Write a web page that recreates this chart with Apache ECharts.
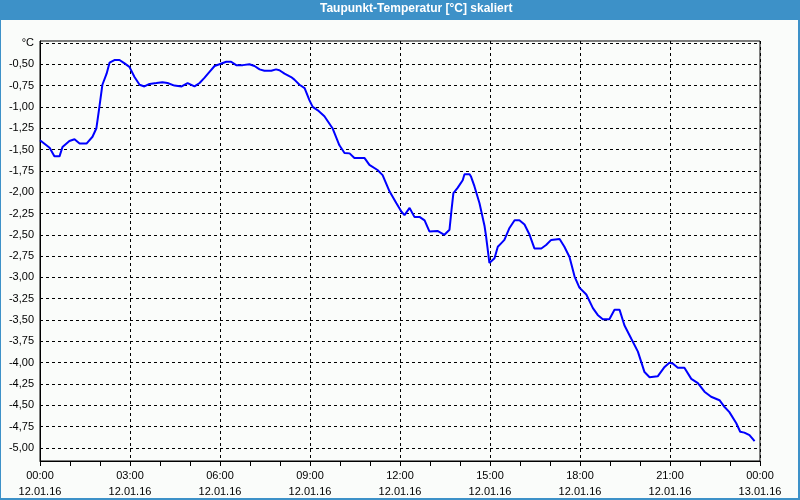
<!DOCTYPE html>
<html>
<head>
<meta charset="utf-8">
<script src="https://cdn.jsdelivr.net/npm/echarts@6/dist/echarts.min.js"></script>
<style>html,body{margin:0;padding:0;background:#fafcfa;}#c{width:800px;height:500px;}</style>
</head>
<body>
<div id="c"></div>
<script>
var titleText = 'Taupunkt-Temperatur [°C] skaliert';
var hours = [0,0.32,0.48,0.65,0.75,0.98,1.15,1.32,1.55,1.75,1.88,1.98,2.08,2.22,2.32,2.48,2.65,2.82,2.98,3.15,3.32,3.48,3.65,3.88,4.08,4.25,4.48,4.72,4.92,4.98,5.15,5.32,5.48,5.65,5.82,5.98,6.21,6.37,6.54,6.76,6.98,7.15,7.32,7.48,7.71,7.87,7.98,8.15,8.37,8.48,8.65,8.82,8.98,9.09,9.26,9.48,9.75,9.98,10.15,10.32,10.48,10.82,10.98,11.25,11.42,11.65,11.88,12.05,12.15,12.32,12.48,12.65,12.82,12.98,13.25,13.48,13.65,13.72,13.78,13.92,14.09,14.15,14.32,14.37,14.48,14.65,14.82,14.87,14.98,15.15,15.26,15.37,15.48,15.65,15.82,15.98,16.15,16.32,16.48,16.71,16.87,17.04,17.32,17.48,17.65,17.82,17.98,18.21,18.43,18.59,18.76,18.98,19.15,19.32,19.48,19.71,19.93,20.04,20.15,20.32,20.59,20.82,20.98,21.09,21.26,21.48,21.71,21.93,22.15,22.37,22.65,22.82,22.98,23.21,23.34,23.48,23.65,23.82];
var dewPoint = [-1.39,-1.48,-1.58,-1.58,-1.47,-1.40,-1.38,-1.43,-1.43,-1.35,-1.25,-1.00,-0.74,-0.61,-0.48,-0.45,-0.45,-0.49,-0.53,-0.65,-0.74,-0.76,-0.73,-0.72,-0.71,-0.72,-0.75,-0.76,-0.72,-0.71,-0.76,-0.72,-0.66,-0.59,-0.52,-0.50,-0.47,-0.47,-0.51,-0.51,-0.50,-0.52,-0.56,-0.575,-0.575,-0.56,-0.57,-0.61,-0.65,-0.68,-0.74,-0.78,-0.92,-1.00,-1.04,-1.11,-1.25,-1.45,-1.54,-1.545,-1.60,-1.60,-1.68,-1.74,-1.80,-1.99,-2.13,-2.23,-2.27,-2.185,-2.29,-2.29,-2.33,-2.46,-2.455,-2.50,-2.44,-2.20,-2.01,-1.95,-1.86,-1.79,-1.79,-1.82,-1.93,-2.13,-2.40,-2.52,-2.83,-2.775,-2.64,-2.60,-2.56,-2.42,-2.33,-2.33,-2.38,-2.50,-2.66,-2.66,-2.62,-2.56,-2.55,-2.64,-2.76,-2.99,-3.12,-3.20,-3.36,-3.44,-3.49,-3.49,-3.38,-3.38,-3.56,-3.72,-3.87,-3.99,-4.11,-4.17,-4.16,-4.05,-4.00,-4.01,-4.06,-4.06,-4.19,-4.24,-4.34,-4.40,-4.44,-4.52,-4.58,-4.71,-4.81,-4.82,-4.85,-4.92];
var yTickValues = [-5,-4.75,-4.5,-4.25,-4,-3.75,-3.5,-3.25,-3,-2.75,-2.5,-2.25,-2,-1.75,-1.5,-1.25,-1,-0.75,-0.5,-0.25];
var yUnitLabel = '°C';
var xTickLabels = ['00:00\n12.01.16','03:00\n12.01.16','06:00\n12.01.16','09:00\n12.01.16','12:00\n12.01.16','15:00\n12.01.16','18:00\n12.01.16','21:00\n12.01.16','00:00\n13.01.16'];

var FONT = 'Liberation Sans';
var chart = echarts.init(document.getElementById('c'), null, {renderer: 'canvas'});
var data = hours.map(function (h, i) { return [h, dewPoint[i]]; });
chart.setOption({
  animation: false,
  backgroundColor: '#fafcfa',
  graphic: [
    {type: 'rect', z: 0, shape: {x: 0, y: 0, width: 800, height: 20}, style: {fill: '#3d91c8'}},
    {type: 'rect', z: 0, shape: {x: 0, y: 0, width: 799, height: 499}, style: {fill: null, stroke: '#3d91c8', lineWidth: 2}}
  ],
  title: {
    text: titleText, left: 320, top: 3, padding: 0, z: 10,
    textStyle: {color: '#ffffff', fontSize: 12, fontWeight: 'bold', fontFamily: FONT}
  },
  grid: {left: 40, right: 40, top: 41, bottom: 39, show: true, borderColor: '#000', borderWidth: 1, backgroundColor: 'transparent'},
  xAxis: {
    type: 'value', min: 0, max: 24, interval: 3,
    axisLine: {lineStyle: {color: '#000', width: 1}},
    axisTick: {show: true, length: 5, lineStyle: {color: '#000'}},
    minorTick: {show: true, splitNumber: 3, length: 5, lineStyle: {color: '#000'}},
    splitLine: {show: true, lineStyle: {color: '#000', type: [3, 3], width: 1}},
    axisLabel: {
      margin: 7, color: '#000', fontSize: 11, fontFamily: FONT, lineHeight: 16,
      formatter: function (v) { return xTickLabels[Math.round(v / 3)]; }
    }
  },
  yAxis: {
    type: 'value', min: -5.153, max: -0.227,
    axisLine: {show: true, lineStyle: {color: '#000'}},
    axisTick: {show: false, customValues: yTickValues},
    splitLine: {show: true, lineStyle: {color: '#000', type: [3, 3], width: 1}},
    axisLabel: {
      customValues: yTickValues, margin: 6, color: '#000', fontSize: 11, fontFamily: FONT,
      formatter: function (v) {
        if (Math.abs(v - (-0.25)) < 1e-6) return yUnitLabel;
        return v.toFixed(2).replace('.', ',');
      }
    }
  },
  series: [{
    type: 'line', data: data, showSymbol: false, symbol: 'none',
    lineStyle: {color: '#0000ff', width: 2}, z: 5
  }]
});
</script>
</body>
</html>
